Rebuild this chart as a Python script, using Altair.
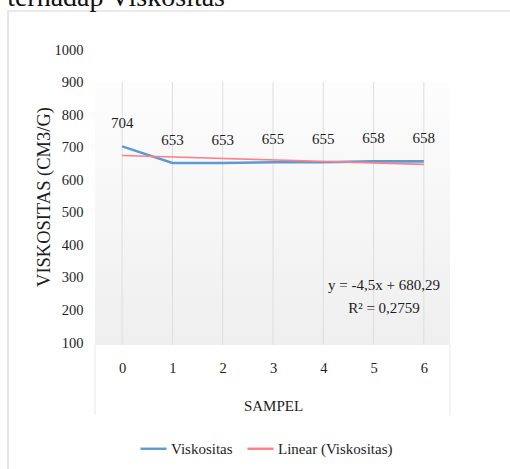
import altair as alt
import pandas as pd

# ---- data ----
sampel = [0, 1, 2, 3, 4, 5, 6]
viskositas = [704, 653, 653, 655, 655, 658, 658]
y_ticks = [100, 200, 300, 400, 500, 600, 700, 800, 900, 1000]
series_names = ["Viskositas", "Linear (Viskositas)"]
series_colors = ["#5b9bd5", "#ff7f84"]
equation_lines = ["y = -4,5x + 680,29", "R\u00b2 = 0,2759"]
title_fragment = "terhadap Viskositas"

df = pd.DataFrame({"Sampel": sampel, "Viskositas": viskositas})
one = pd.DataFrame({"k": [0]})
FONT = "Liberation Serif"
TXT = "#1e1e1e"

x_enc = alt.X(
    "Sampel:Q",
    scale=alt.Scale(domain=[-0.5, 6.5], nice=False, zero=False),
    axis=alt.Axis(values=sampel, format="d", title="SAMPEL", grid=False, domain=False,
                  ticks=False, labelPadding=18, labelFontSize=14.5, titleFontSize=15,
                  titleFontWeight="normal", titleY=62, titleBaseline="middle",
                  labelColor=TXT, titleColor=TXT, labelFont=FONT, titleFont=FONT),
)
y_enc = alt.Y(
    "Viskositas:Q",
    scale=alt.Scale(domain=[100, 1000], nice=False, zero=False),
    axis=alt.Axis(values=y_ticks, format="d", title="VISKOSITAS (CM3/G)", grid=False,
                  domain=False, ticks=False, labelPadding=14, labelFontSize=14.5,
                  titleX=-54, titleY=146.5, titleAngle=-90, titleAlign="center",
                  titleBaseline="middle", titleFontSize=18.5, titleFontWeight="normal",
                  labelColor=TXT, titleColor=TXT, labelFont=FONT, titleFont=FONT),
)
color_enc = alt.Color(
    "Series:N",
    scale=alt.Scale(domain=series_names, range=series_colors),
    legend=alt.Legend(orient="none", legendX=42, legendY=384, direction="horizontal",
                      title=None, symbolType="stroke", symbolSize=676,
                      symbolStrokeWidth=2.4, labelFontSize=15, labelFont=FONT,
                      labelColor=TXT, labelOffset=3, columnPadding=9),
)

# decorations
border = alt.Chart(one).mark_rect(filled=False, stroke="#d6d6d6", strokeWidth=1.2).encode(
    x=alt.value(-89), x2=alt.value(520), y=alt.value(-39), y2=alt.value(480)
)
background = alt.Chart(one).mark_rect(
    fill=alt.Gradient(gradient="linear",
                      stops=[alt.GradientStop(color="#fdfdfd", offset=0),
                             alt.GradientStop(color="#efefef", offset=1)],
                      x1=0, x2=0, y1=0, y2=1)
).encode(x=alt.value(-2), x2=alt.value(353), y=alt.value(32), y2=alt.value(295))
side_l = alt.Chart(one).mark_rule(color="#e8e8e8", strokeWidth=1).encode(
    x=alt.value(-2), y=alt.value(295), y2=alt.value(365))
side_r = alt.Chart(one).mark_rule(color="#e8e8e8", strokeWidth=1).encode(
    x=alt.value(353), y=alt.value(295), y2=alt.value(365))
grid = alt.Chart(df).mark_rule(color="#dedede", strokeWidth=1).encode(
    x=x_enc, y=alt.value(32), y2=alt.value(295))

main = alt.Chart(df).transform_calculate(Series="'Viskositas'").mark_line(
    strokeWidth=2.6).encode(x=x_enc, y=y_enc, color=color_enc)
trend = alt.Chart(df).transform_regression(
    "Sampel", "Viskositas", method="linear", extent=[0, 6]
).transform_calculate(Series="'Linear (Viskositas)'").mark_line(strokeWidth=1.6).encode(
    x=x_enc, y=y_enc, color=color_enc)
labels = alt.Chart(df).mark_text(dy=-23, fontSize=15, font=FONT, color=TXT).encode(
    x=x_enc, y=y_enc, text="Viskositas:Q")
equation = alt.Chart(one).mark_text(fontSize=15, font=FONT, color=TXT, lineHeight=23,
                                    align="center", baseline="alphabetic").encode(
    x=alt.value(287), y=alt.value(240), text=alt.value(equation_lines))
title_txt = alt.Chart(one).mark_text(fontSize=28, font=FONT, color="#111111",
                                     align="right", baseline="alphabetic").encode(
    x=alt.value(128), y=alt.value(-44), text=alt.value(title_fragment))

chart = alt.layer(
    border, background, side_l, side_r, grid, main, trend, labels, equation, title_txt
).properties(
    width=352, height=293,
    padding={"left": 97, "top": 50, "right": 61, "bottom": 126},
    autosize=alt.AutoSizeParams(type="none"),
).configure_view(
    stroke="transparent"
).configure_axis(
    labelFont=FONT, titleFont=FONT
).configure_legend(
    labelFont=FONT
).configure_text(
    font=FONT
)

chart.save("out.html", embed_options={"renderer": "svg", "actions": False})
